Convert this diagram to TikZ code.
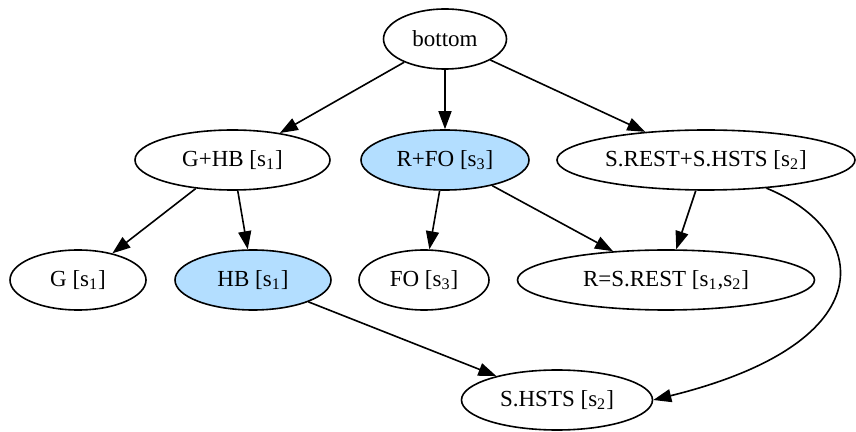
\documentclass[tikz,border=0pt]{standalone}
\usepackage{fontspec}
\setmainfont{Liberation Serif}
\usetikzlibrary{arrows.meta, shapes.geometric}
\definecolor{hiblue}{RGB}{179,222,255}

\begin{document}
\begin{tikzpicture}[x=0.5pt, y=-0.5pt,
    state/.style={ellipse, draw, line width=0.8pt, inner sep=0pt, minimum height=30pt, font=\fontsize{11.5}{13}\selectfont},
    chosen/.style={state, fill=hiblue},
    dep/.style={-{Triangle[length=9pt, width=6.5pt]}, line width=0.8pt}
]
\useasboundingbox (0,0) rectangle (856,432);

\def\yA{39}
\def\yB{160}
\def\yC{280}
\def\yD{400}

\node[state, minimum width=61.5pt] (bottom) at (445,\yA) {bottom};

\node[state, minimum width=97.5pt] (ghb) at (232.5,\yB) {G+HB [s\textsubscript{1}]};
\node[chosen, minimum width=84pt] (rfo) at (445,\yB) {R+FO [s\textsubscript{3}]};
\node[state, minimum width=149pt] (srhs) at (706,\yB) {S.REST+S.HSTS [s\textsubscript{2}]};

\node[state, minimum width=68pt] (g) at (78,\yC) {G [s\textsubscript{1}]};
\node[chosen, minimum width=78pt] (hb) at (253,\yC) {HB [s\textsubscript{1}]};
\node[state, minimum width=65pt] (fo) at (424,\yC) {FO [s\textsubscript{3}]};
\node[state, minimum width=148.5pt] (rsrest) at (666,\yC) {R=S.REST [s\textsubscript{1},s\textsubscript{2}]};

\node[state, minimum width=95.5pt] (shsts) at (557,\yD) {S.HSTS [s\textsubscript{2}]};

\draw[dep] (bottom) -- (ghb);
\draw[dep] (bottom) -- (rfo);
\draw[dep] (bottom) -- (srhs);
\draw[dep] (ghb) -- (g);
\draw[dep] (ghb) -- (hb);
\draw[dep] (rfo) -- (fo);
\draw[dep] (rfo) -- (rsrest);
\draw[dep] (srhs) -- (rsrest);
\draw[dep] (hb) -- (shsts);
\draw[dep] (srhs.-25) .. controls +(103,42) and +(235,-58) .. (shsts.east);

\end{tikzpicture}
\end{document}
